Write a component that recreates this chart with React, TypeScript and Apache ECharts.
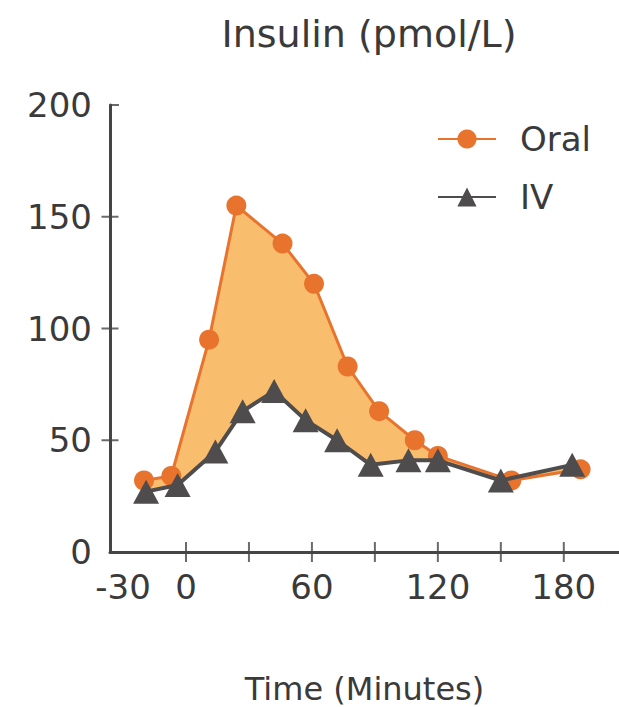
import React, { useEffect, useRef } from "react";
import * as echarts from "echarts";

const oralTime = [-20, -7, 11, 24, 46, 61, 77, 92, 109, 120, 155, 188];
const oralInsulin = [32, 34, 95, 155, 138, 120, 83, 63, 50, 43, 32, 37];
const ivTime = [-19, -4, 14, 27, 42, 57, 72, 88, 106, 120, 150, 184];
const ivInsulin = [27, 30, 45, 63, 72, 59, 50, 39, 41, 41, 32, 39];
const xLabelValues = [-30, 0, 60, 120, 180];
const xTickValues = [0, 30, 60, 90, 120, 150, 180];
const yLabelValues = [0, 50, 100, 150, 200];
const yTickValues = [50, 100, 150];

const FONT = "DejaVu Sans";
const AXIS = "#454545";
const TEXT = "#3a3a3a";
const ORANGE = "#E8732D";
const FILL = "#F9BD6E";
const GRAY = "#4E4C4D";

export default function App() {
  const ref = useRef<HTMLDivElement>(null);
  useEffect(() => {
    const chart = echarts.init(ref.current!, null, { renderer: "svg" });
    const xMin = -36.2;
    const xMax = 206.3;
    chart.setOption({
      animation: false,
      title: {
        text: "Insulin (pmol/L)",
        left: 364,
        top: 10,
        textAlign: "center",
        textStyle: { fontFamily: FONT, fontSize: 38, fontWeight: "normal", color: TEXT },
      },
      legend: {
        orient: "vertical",
        left: 432,
        top: 117,
        itemWidth: 58,
        itemHeight: 24,
        itemGap: 24,
        data: ["Oral", "IV"],
        textStyle: { fontFamily: FONT, fontSize: 34, color: TEXT, padding: [0, 0, 0, 19] },
      },
      grid: { left: 110, right: 0, top: 105, bottom: 155, outerBoundsMode: "none", containLabel: false },
      xAxis: {
        type: "value",
        min: xMin,
        max: xMax,
        name: "Time (Minutes)",
        nameLocation: "middle",
        nameGap: 121,
        nameTextStyle: { fontFamily: FONT, fontSize: 32, color: TEXT },
        splitLine: { show: false },
        axisLine: { show: true, onZero: false, lineStyle: { color: AXIS, width: 3 } },
        axisTick: { show: false },
        axisLabel: {
          customValues: xLabelValues,
          margin: 18,
          fontFamily: FONT,
          fontSize: 34,
          color: TEXT,
        },
      },
      yAxis: {
        type: "value",
        min: 0,
        max: 200,
        interval: 50,
        splitLine: { show: false },
        axisLine: { show: true, onZero: false, lineStyle: { color: AXIS, width: 3 } },
        axisTick: { show: false },
        axisLabel: { customValues: yLabelValues, margin: 18, fontFamily: FONT, fontSize: 34, color: TEXT },
      },
      series: [
        {
          type: "custom",
          name: "fill",
          silent: true,
          z: 1,
          data: [[0, 0]],
          renderItem: (params: any, api: any) => {
            const pts: number[][] = [];
            oralTime.forEach((t, i) => pts.push(api.coord([t, oralInsulin[i]])));
            for (let i = ivTime.length - 1; i >= 0; i--) pts.push(api.coord([ivTime[i], ivInsulin[i]]));
            return { type: "polygon", shape: { points: pts }, style: { fill: FILL } };
          },
        },
        {
          type: "line",
          name: "Oral",
          z: 3,
          data: oralTime.map((t, i) => [t, oralInsulin[i]]),
          symbol: "circle",
          symbolSize: 20,
          lineStyle: { color: ORANGE, width: 3 },
          itemStyle: { color: ORANGE },
        },
        {
          type: "line",
          name: "IV",
          z: 4,
          data: ivTime.map((t, i) => [t, ivInsulin[i]]),
          symbol: "triangle",
          symbolSize: [26, 24],
          lineStyle: { color: GRAY, width: 4 },
          itemStyle: { color: GRAY },
        },
        {
          type: "scatter",
          name: "xTicks",
          silent: true,
          clip: false,
          z: 5,
          symbol: "rect",
          symbolSize: [2, 20],
          itemStyle: { color: AXIS },
          data: xTickValues.map((v) => [v, 0]),
        },
        {
          type: "scatter",
          name: "yTicks",
          silent: true,
          clip: false,
          z: 5,
          symbol: "rect",
          symbolSize: [17, 2],
          itemStyle: { color: AXIS },
          data: yTickValues.map((v) => [xMin, v]),
        },
        {
          type: "scatter",
          name: "yTopTick",
          silent: true,
          clip: false,
          z: 5,
          symbol: "rect",
          symbolSize: [9, 2],
          symbolOffset: [4.5, 0],
          itemStyle: { color: AXIS },
          data: [[xMin, 200]],
        },
      ],
    });
    return () => chart.dispose();
  }, []);
  return (
    <div
      ref={ref}
      style={{ position: "fixed", left: 0, top: 0, width: 619, height: 707, background: "#fff" }}
    />
  );
}
